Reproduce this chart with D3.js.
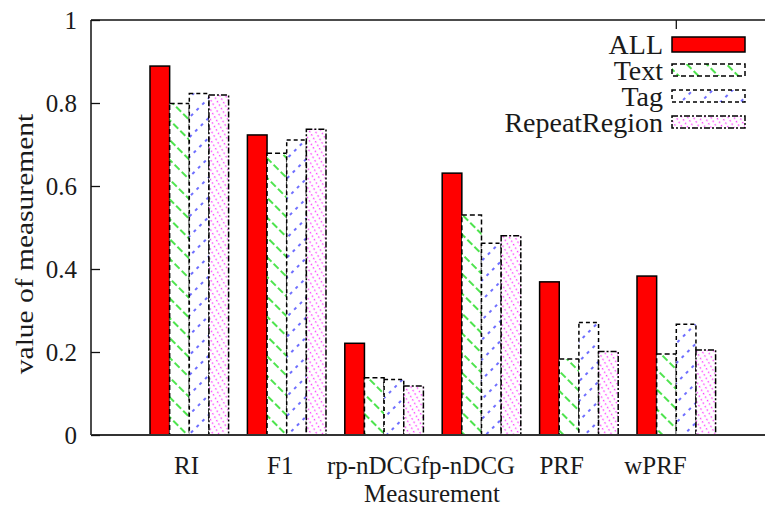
<!DOCTYPE html>
<html><head><meta charset="utf-8">
<script src="https://cdn.jsdelivr.net/npm/d3@7"></script>
<style>
html,body{margin:0;padding:0;background:#fff;}
svg{display:block;}
text{font-family:"Liberation Serif","Times New Roman",serif;fill:#1a1a1a;}
</style></head>
<body>
<script>
const categories = ["RI","F1","rp-nDCG","fp-nDCG","PRF","wPRF"];
const seriesNames = ["ALL","Text","Tag","RepeatRegion"];
const allValues = [0.889,0.723,0.221,0.631,0.369,0.383];
const textValues = [0.799,0.679,0.138,0.530,0.183,0.195];
const tagValues = [0.823,0.711,0.134,0.462,0.271,0.267];
const repeatValues = [0.819,0.737,0.118,0.480,0.201,0.205];
const yTickValues = [0,0.2,0.4,0.6,0.8,1];
const yTickLabels = ["0","0.2","0.4","0.6","0.8","1"];

(function(){
const seriesValues = [allValues,textValues,tagValues,repeatValues];
const W=765,H=508;
const svg=d3.select("body").append("svg").attr("width",W).attr("height",H);
const defs=svg.append("defs");

function hatch(id,angle,spacing,color,dash,width){
  const p=defs.append("pattern").attr("id",id).attr("patternUnits","userSpaceOnUse")
    .attr("width",spacing).attr("height",40).attr("patternTransform",`rotate(${angle})`);
  p.append("rect").attr("width",spacing).attr("height",40).attr("fill","#fff");
  p.append("line").attr("x1",spacing/2).attr("x2",spacing/2).attr("y1",0).attr("y2",40)
    .attr("stroke",color).attr("stroke-width",width).attr("stroke-dasharray",dash);
}
hatch("pText",-45,14,"#22dd22","7,3",1.6);
hatch("pTag",45,14,"#4a4aff","3,5",1.6);
hatch("pRep",-30,5,"#ff33ff","1.5,2.5",1.3);

const fills=["#ff0000","url(#pText)","url(#pTag)","url(#pRep)"];
const borderDash=[null,"5,3","4,3","6,2,2,2"];

const pLeft=91, pTop=20, pBottom=435;
const y=d3.scaleLinear().domain([0,1]).range([pBottom,pTop]);
const x0=d3.scaleBand().domain(categories).range([150,715.6]).paddingInner(0.193).paddingOuter(0);
const x1=d3.scaleBand().domain(seriesNames).range([0,x0.bandwidth()]);
const xLab=d3.scalePoint().domain(categories).range([186,655]);

// bars
seriesNames.forEach((s,si)=>{
  svg.append("g").selectAll("rect").data(categories).join("rect")
    .attr("x",c=>x0(c)+x1(s))
    .attr("y",(c,i)=>y(seriesValues[si][i]))
    .attr("width",x1.bandwidth())
    .attr("height",(c,i)=>y(0)-y(seriesValues[si][i]))
    .attr("fill",fills[si]).attr("stroke","#000").attr("stroke-width",1.5)
    .attr("stroke-dasharray",borderDash[si]);
});

// frame
svg.append("line").attr("x1",pLeft).attr("x2",W+5).attr("y1",pTop).attr("y2",pTop).attr("stroke","#111").attr("stroke-width",1.5);
svg.append("line").attr("x1",pLeft).attr("x2",pLeft).attr("y1",pTop).attr("y2",pBottom).attr("stroke","#111").attr("stroke-width",1.5);
svg.append("line").attr("x1",pLeft).attr("x2",W+5).attr("y1",pBottom).attr("y2",pBottom).attr("stroke","#333").attr("stroke-width",2);

// y axis
const yAxis=d3.axisLeft(y).tickValues(yTickValues).tickSize(-9).tickPadding(14)
  .tickFormat((d,i)=>yTickLabels[i]);
const ga=svg.append("g").attr("transform",`translate(${pLeft},0)`).call(yAxis);
ga.select(".domain").remove();
ga.selectAll(".tick line").attr("stroke","#111").attr("stroke-width",1.3);
ga.selectAll(".tick text").attr("font-size",25).attr("font-family","Liberation Serif").attr("fill","#1a1a1a").attr("dy","0.32em");

// x labels
const xAxis=d3.axisBottom(xLab).tickSize(0).tickPadding(21);
const gx=svg.append("g").attr("transform",`translate(0,${pBottom})`).call(xAxis);
gx.select(".domain").remove();
gx.selectAll(".tick text").attr("font-size",25).attr("font-family","Liberation Serif").attr("fill","#1a1a1a");

// top tick
svg.append("line").attr("x1",x0("wPRF")+x0.bandwidth()/2).attr("x2",x0("wPRF")+x0.bandwidth()/2)
  .attr("y1",pTop).attr("y2",pTop+9).attr("stroke","#111").attr("stroke-width",1.3);

// axis titles
svg.append("text").attr("x",432).attr("y",502).attr("text-anchor","middle").attr("font-size",25).text("Measurement");
svg.append("text").attr("transform",`translate(33,244) rotate(-90) scale(1.18,1)`).attr("text-anchor","middle").attr("font-size",25).text("value of measurement");

// legend
const lg=svg.append("g");
seriesNames.forEach((s,i)=>{
  const cy=44+i*26;
  lg.append("text").attr("x",663).attr("y",cy).attr("dy","0.35em").attr("text-anchor","end").attr("font-size",28).text(s);
  lg.append("rect").attr("x",672).attr("y",cy-7).attr("width",73).attr("height",i===0?15:12)
    .attr("transform",i===0?"":`translate(0,1)`)
    .attr("fill",fills[i]).attr("stroke","#000").attr("stroke-width",1.5).attr("stroke-dasharray",borderDash[i]);
});
})();
</script>
</body></html>
